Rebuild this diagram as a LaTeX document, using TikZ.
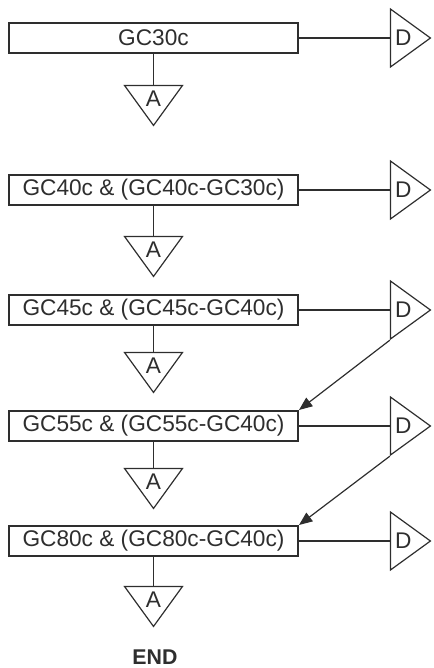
\documentclass[tikz,border=0pt]{standalone}
\usepackage{fontspec}
\setmainfont{Liberation Sans}
\usetikzlibrary{shapes.geometric,arrows.meta}
\definecolor{scuro}{gray}{0.18}

\begin{document}
\begin{tikzpicture}[x=0.75pt, y=-0.75pt,
    every node/.style={text=scuro, font=\fontsize{17}{20}\selectfont},
    passo/.style={draw=scuro, line width=1.5pt, minimum width=216.75pt, minimum height=22.5pt, inner sep=0pt},
    tri/.style={draw=scuro, line width=0.9pt, isosceles triangle, isosceles triangle stretches, inner sep=0pt,
        minimum width=43.5pt, minimum height=30pt, font=\fontsize{17}{18}\selectfont},
    linea/.style={draw=scuro, line width=0.9pt},
    freccia/.style={draw=scuro, line width=0.9pt, -{Triangle[length=10pt, width=8pt]}}]
    \useasboundingbox (0,0) rectangle (433,668);

    \coordinate (c1) at (153.5,38);
    \coordinate (c2) at (153.5,190);
    \coordinate (c3) at (153.5,310);
    \coordinate (c4) at (153.5,426);
    \coordinate (c5) at (153.5,541);

    % Riquadri
    \node[passo] (g1) at (c1) {GC30c};
    \node[passo] (g2) at (c2) {GC40c \& (GC40c-GC30c)};
    \node[passo] (g3) at (c3) {GC45c \& (GC45c-GC40c)};
    \node[passo] (g4) at (c4) {GC55c \& (GC55c-GC40c)};
    \node[passo] (g5) at (c5) {GC80c \& (GC80c-GC40c)};

    % Triangoli A
    \node[tri, shape border rotate=270, anchor=apex] (a1) at (153.5,127) {A};
    \node[tri, shape border rotate=270, anchor=apex] (a2) at (153.5,278) {A};
    \node[tri, shape border rotate=270, anchor=apex] (a3) at (153.5,394) {A};
    \node[tri, shape border rotate=270, anchor=apex] (a4) at (153.5,510) {A};
    \node[tri, shape border rotate=270, anchor=apex] (a5) at (153.5,628) {A};

    % Triangoli D
    \node[tri, anchor=apex] (d1) at (432,38) {D};
    \node[tri, anchor=apex] (d2) at (432,190) {D};
    \node[tri, anchor=apex] (d3) at (432,310) {D};
    \node[tri, anchor=apex] (d4) at (432,426) {D};
    \node[tri, anchor=apex] (d5) at (432,541) {D};

    % Collegamenti
    \draw[linea] (g1.east) -- (d1.lower side);
    \draw[linea] (g2.east) -- (d2.lower side);
    \draw[linea] (g3.east) -- (d3.lower side);
    \draw[linea] (g4.east) -- (d4.lower side);
    \draw[linea] (g5.east) -- (d5.lower side);
    \draw[linea] (g1.south) -- (a1.lower side);
    \draw[linea] (g2.south) -- (a2.lower side);
    \draw[linea] (g3.south) -- (a3.lower side);
    \draw[linea] (g4.south) -- (a4.lower side);
    \draw[linea] (g5.south) -- (a5.lower side);
    \draw[freccia] (d3.right corner) -- (g4.north east);
    \draw[freccia] (d4.right corner) -- (g5.north east);

    \node[inner sep=0pt, font=\fontsize{16}{18}\selectfont\bfseries] (fine) at (155,657) {END};
\end{tikzpicture}
\end{document}
